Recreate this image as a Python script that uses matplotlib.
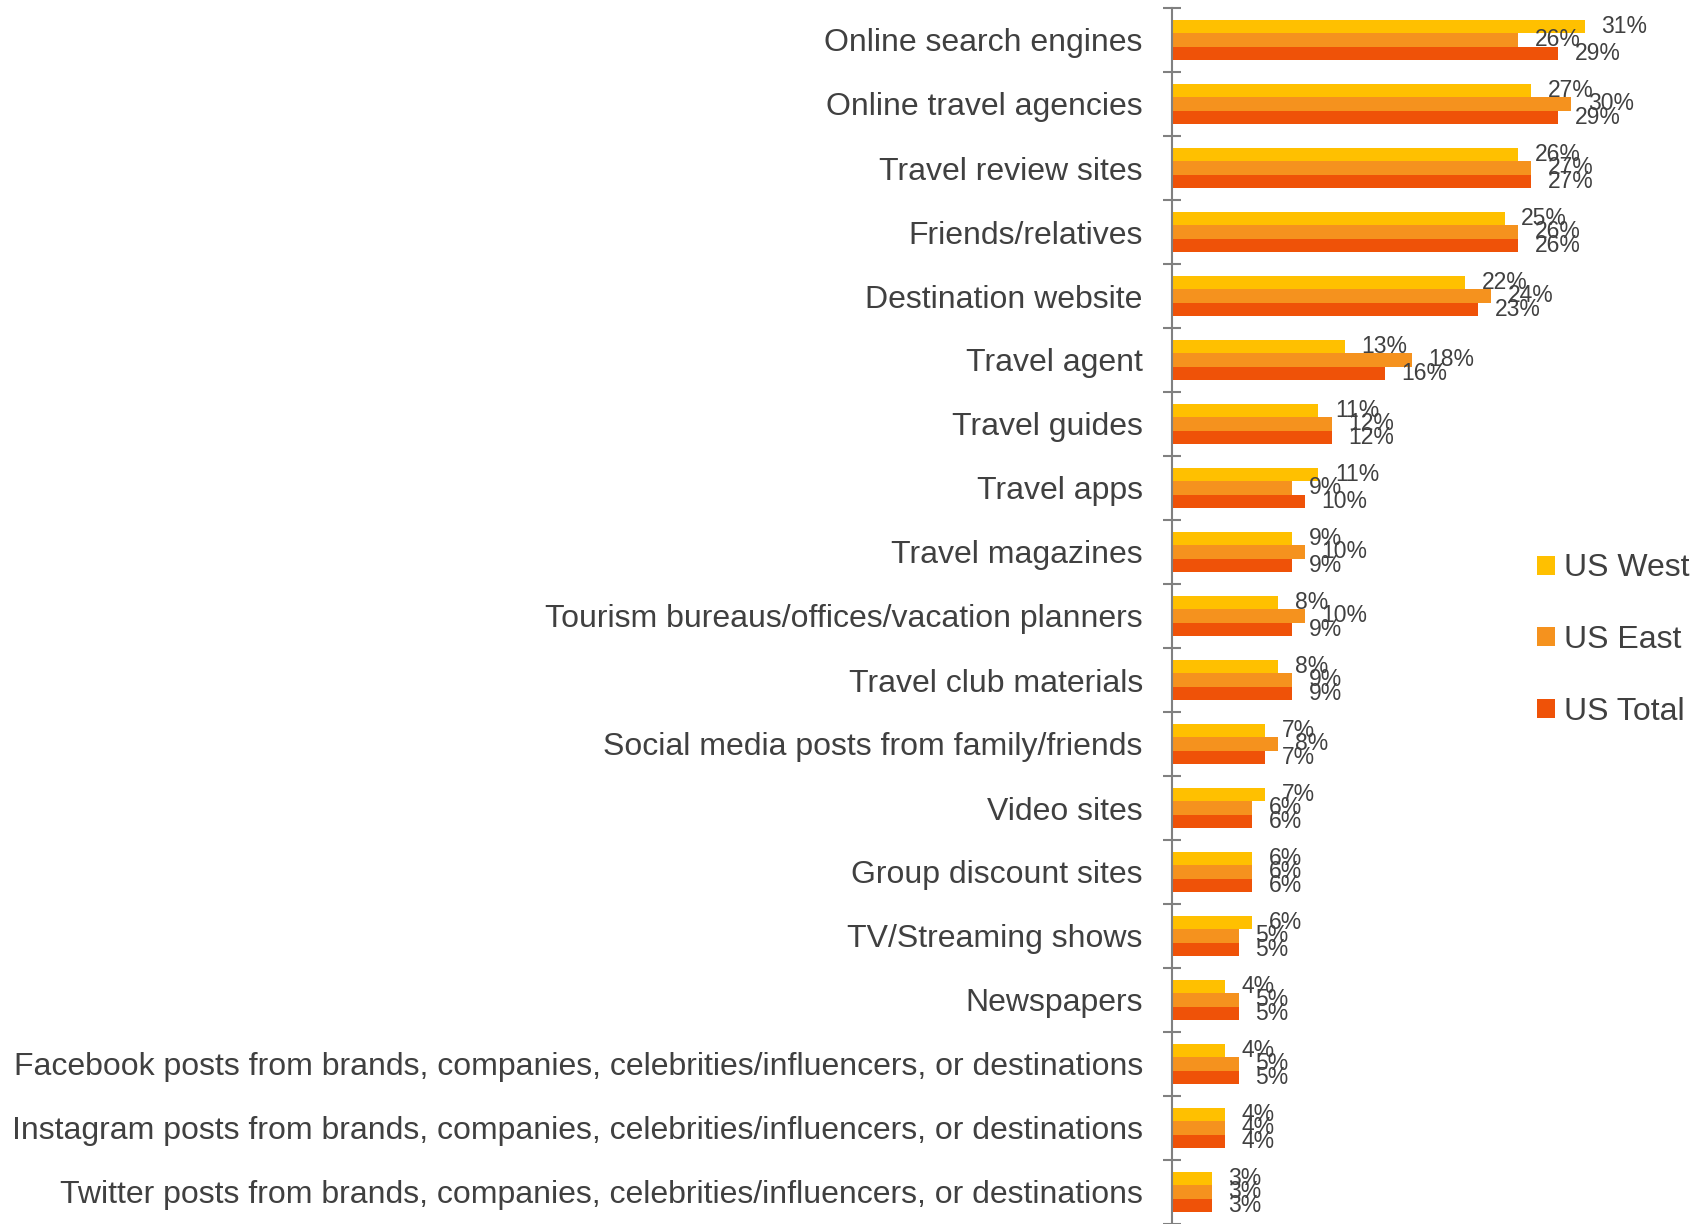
import numpy as np
import matplotlib.pyplot as plt

plt.rcParams['font.family'] = ['Liberation Sans', 'DejaVu Sans']

categories = ['Online search engines', 'Online travel agencies', 'Travel review sites',
              'Friends/relatives', 'Destination website', 'Travel agent', 'Travel guides',
              'Travel apps', 'Travel magazines', 'Tourism bureaus/offices/vacation planners',
              'Travel club materials', 'Social media posts from family/friends', 'Video sites',
              'Group discount sites', 'TV/Streaming shows', 'Newspapers',
              'Facebook posts from brands, companies, celebrities/influencers, or destinations',
              'Instagram posts from brands, companies, celebrities/influencers, or destinations',
              'Twitter posts from brands, companies, celebrities/influencers, or destinations']
us_west = [31, 27, 26, 25, 22, 13, 11, 11, 9, 8, 8, 7, 7, 6, 6, 4, 4, 4, 3]
us_east = [26, 30, 27, 26, 24, 18, 12, 9, 10, 10, 9, 8, 6, 6, 5, 5, 5, 4, 3]
us_total = [29, 29, 27, 26, 23, 16, 12, 10, 9, 9, 9, 7, 6, 6, 5, 5, 5, 4, 3]

series = ['US West', 'US East', 'US Total']
colors = ['#FFC000', '#F5921E', '#EF5208']
txt = '#404040'

fig = plt.figure(figsize=(16.98, 12.24), dpi=100)
ax = fig.add_axes([1172/1698, 0, 519/1698, 1 - 8/1224])

y = np.arange(len(categories))
h = 0.208
for k, (vals, c, lab) in enumerate(zip([us_west, us_east, us_total], colors, series)):
    bars = ax.barh(y + (k - 1) * h, vals, height=h, color=c, label=lab)
    ax.bar_label(bars, labels=[f'{v}%' for v in vals], padding=12,
                 fontsize=16.5, color=txt)

ax.set_xlim(0, 39)
ax.set_ylim(len(categories) - 0.5, -0.5)
ax.xaxis.set_visible(False)
for s in ['top', 'right', 'bottom']:
    ax.spines[s].set_visible(False)
ax.spines['left'].set_color('#808080')
ax.spines['left'].set_linewidth(1.5)

# labels at category centres, ticks at boundaries
ax.set_yticks(y)
ax.set_yticklabels(categories, fontsize=23, color=txt)
ax.tick_params(axis='y', which='major', length=0, pad=21)
ax.set_yticks(np.arange(len(categories) + 1) - 0.5, minor=True)
ax.tick_params(axis='y', which='minor', direction='inout', length=13,
               width=1.5, color='#808080')

ax.legend(loc='center left', bbox_to_anchor=(1537/1698, 1 - 640/1224),
          bbox_transform=fig.transFigure, frameon=False, fontsize=23,
          handlelength=0.55, handleheight=0.55, handletextpad=0.3,
          labelspacing=1.3, borderpad=0, borderaxespad=0, labelcolor=txt)

fig.savefig('out.png', dpi=100)
